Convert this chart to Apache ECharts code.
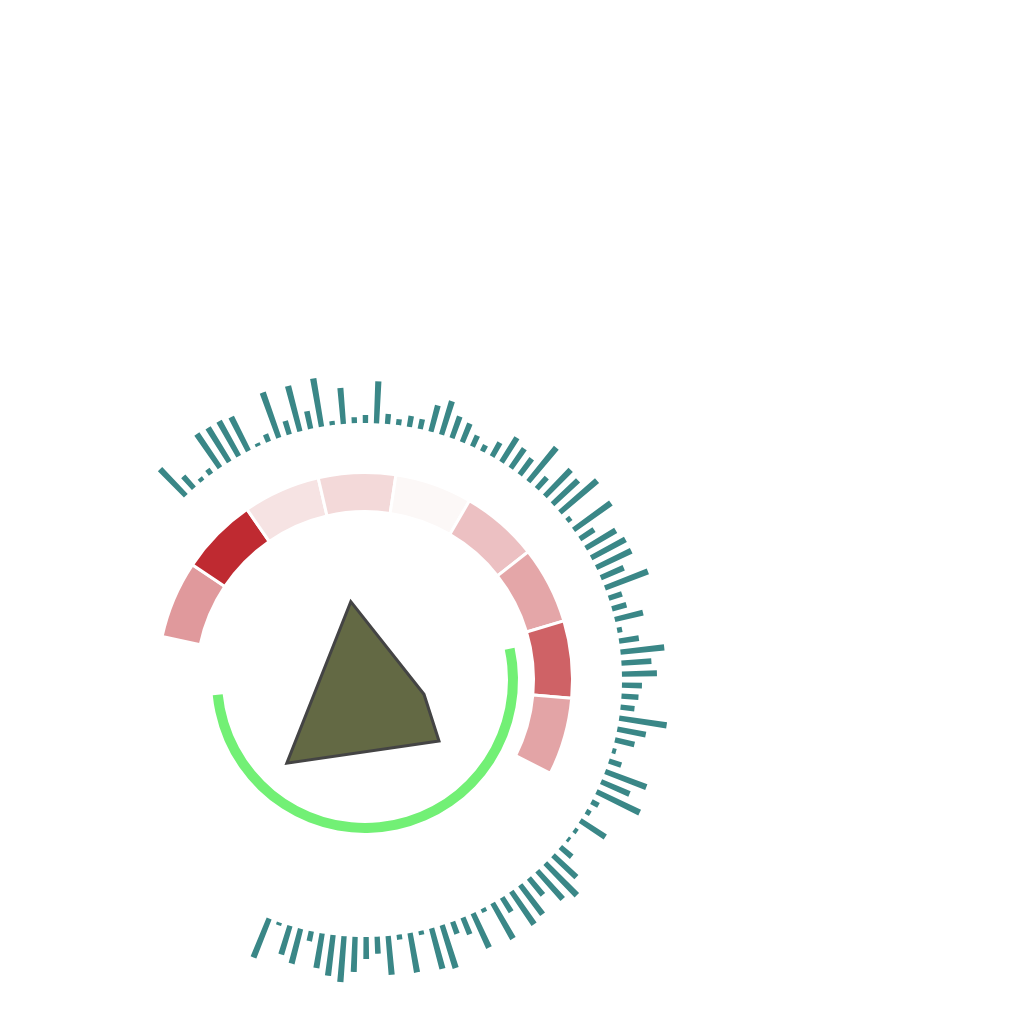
<!DOCTYPE html>
<html>
<head>
<meta charset="utf-8">
<title>polar rings</title>
<script src="https://cdn.jsdelivr.net/npm/echarts@6.0.0/dist/echarts.min.js"></script>
<style>
  html, body { margin: 0; padding: 0; background: #fff; }
  #main { width: 1024px; height: 1024px; }
</style>
</head>
<body>
<div id="main"></div>
<script type="text/javascript">
// outer teal ring: one bar per category, clockwise from upper left
var outerValues = [
    37, 16, 4, 6, 41, 40, 40, 38, 3, 8,
    48, 14, 47, 18, 49, 4, 36, 6, 8, 42,
    10, 6, 11, 10, 27, 35, 23, 20, 12, 7,
    16, 29, 24, 20, 44, 15, 37, 35, 49, 5,
    46, 17, 35, 39, 39, 25, 46, 14, 15, 29,
    5, 20, 44, 30, 35, 20, 17, 14, 48, 29,
    20, 4, 13, 44, 31, 48, 8, 5, 30, 4,
    3, 15, 32, 45, 38, 22, 37, 40, 17, 41,
    4, 38, 18, 13, 45, 42, 4, 40, 5, 39,
    17, 22, 35, 46, 41, 35, 10, 36, 30, 3,
    42
];
var outerCats = outerValues.map(function (v, i) { return 'C' + (i + 1); });

// middle ring: heat per segment
var ringCats = ['S1', 'S2', 'S3', 'S4', 'S5', 'S6', 'S7', 'S8', 'S9'];
var ringHeat = [46, 100, 10, 15, 0, 27, 40, 73, 41];

// inner green arc (degrees)
var arcCats = ['arc'];
var arcValue = [186.5];

// center polygon
var polyX = [42.9, 79.5, 87.0, 10.9];
var polyY = [89.2, 42.9, 19.5, 8.4];

var myChart = echarts.init(document.getElementById('main'));

var center = [365, 680];
var hidden = { show: false };

var option = {
    animation: false,
    polar: [
        { center: center, radius: [257, 307] },
        { center: center, radius: [168.5, 207.5] },
        { center: center, radius: [143, 153] }
    ],
    angleAxis: [
        {
            polarIndex: 0, type: 'category', data: outerCats,
            startAngle: 135.43, endAngle: -113.13,
            axisLine: hidden, axisTick: hidden, axisLabel: hidden, splitLine: hidden
        },
        {
            polarIndex: 1, type: 'category', data: ringCats,
            startAngle: 167.9, endAngle: -26.7,
            axisLine: hidden, axisTick: hidden, axisLabel: hidden, splitLine: hidden
        },
        {
            polarIndex: 2, type: 'value', min: 0, max: 360,
            startAngle: 12.2,
            axisLine: hidden, axisTick: hidden, axisLabel: hidden, splitLine: hidden
        }
    ],
    radiusAxis: [
        {
            polarIndex: 0, type: 'value', min: 0, max: 50,
            axisLine: hidden, axisTick: hidden, axisLabel: hidden, splitLine: hidden
        },
        {
            polarIndex: 1, type: 'value', min: 0, max: 1,
            axisLine: hidden, axisTick: hidden, axisLabel: hidden, splitLine: hidden
        },
        {
            polarIndex: 2, type: 'category', data: arcCats,
            axisLine: hidden, axisTick: hidden, axisLabel: hidden, splitLine: hidden
        }
    ],
    grid: { left: 265, top: 580, width: 200, height: 200 },
    xAxis: { type: 'value', min: 0, max: 100, show: false },
    yAxis: { type: 'value', min: 0, max: 100, show: false },
    visualMap: {
        show: false,
        type: 'continuous',
        seriesIndex: 1,
        dimension: 2,
        min: 0,
        max: 100,
        inRange: { color: ['#fcf8f7', '#bf2a31'] }
    },
    series: [
        {
            name: 'outer',
            type: 'bar',
            coordinateSystem: 'polar',
            polarIndex: 0,
            barWidth: '48%',
            itemStyle: { color: '#3a8787' },
            data: outerValues
        },
        {
            name: 'ring',
            type: 'bar',
            coordinateSystem: 'polar',
            polarIndex: 1,
            barCategoryGap: '0%',
            itemStyle: { borderColor: '#fff', borderWidth: 3 },
            data: ringCats.map(function (c, i) { return [1, c, ringHeat[i]]; })
        },
        {
            name: 'arc',
            type: 'bar',
            coordinateSystem: 'polar',
            polarIndex: 2,
            barCategoryGap: '0%',
            itemStyle: { color: '#72f075' },
            data: arcValue
        },
        {
            name: 'shape',
            type: 'custom',
            coordinateSystem: 'cartesian2d',
            renderItem: function (params, api) {
                if (params.dataIndex !== 0) return;
                var pts = polyX.map(function (x, i) { return api.coord([x, polyY[i]]); });
                return {
                    type: 'polygon',
                    shape: { points: pts },
                    style: { fill: '#636944', stroke: '#444444', lineWidth: 3, lineJoin: 'miter' }
                };
            },
            data: polyX.map(function (x, i) { return [x, polyY[i]]; })
        }
    ]
};

myChart.setOption(option);
</script>
</body>
</html>
